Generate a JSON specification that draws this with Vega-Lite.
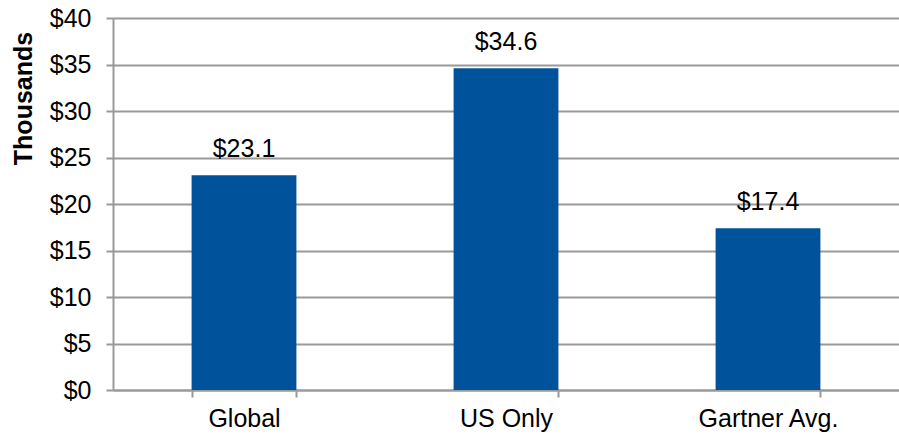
{
  "$schema": "https://vega.github.io/schema/vega-lite/v6.json",
  "width": 786,
  "height": 372,
  "autosize": {"type": "none"},
  "padding": {"left": 113, "top": 18, "right": 0, "bottom": 47},
  "background": "white",
  "config": {
    "view": {"stroke": null},
    "font": "Liberation Sans"
  },
  "data": {
    "values": [
      {"category": "Global", "value": 23.1},
      {"category": "US Only", "value": 34.6},
      {"category": "Gartner Avg.", "value": 17.4}
    ]
  },
  "encoding": {
    "x": {
      "field": "category",
      "type": "nominal",
      "sort": null,
      "scale": {"paddingInner": 0.6, "paddingOuter": 0.3},
      "axis": {
        "title": null,
        "labelAngle": 0,
        "labelFontSize": 25,
        "labelColor": "black",
        "labelPadding": 9,
        "domainColor": "#999999",
        "domainWidth": 2,
        "tickColor": "#999999",
        "tickWidth": 2,
        "tickSize": 7,
        "tickBand": "extent",
        "grid": false
      }
    },
    "y": {
      "field": "value",
      "type": "quantitative",
      "scale": {"domain": [0, 40]},
      "axis": {
        "values": [0, 5, 10, 15, 20, 25, 30, 35, 40],
        "labelExpr": "'$' + datum.value",
        "labelFontSize": 25,
        "labelColor": "black",
        "labelPadding": 15,
        "domainColor": "#999999",
        "domainWidth": 2,
        "tickColor": "#999999",
        "tickWidth": 2,
        "tickSize": 7,
        "grid": true,
        "gridColor": "#999999",
        "gridWidth": 2,
        "title": "Thousands",
        "titleFontSize": 25,
        "titleFontWeight": "bold",
        "titleColor": "black",
        "titleAngle": -90,
        "titleX": -90,
        "titleY": 80,
        "titleAlign": "center",
        "titleBaseline": "middle"
      }
    }
  },
  "layer": [
    {"mark": {"type": "bar", "color": "#00529B"}},
    {
      "mark": {"type": "text", "fontSize": 25, "color": "black", "baseline": "alphabetic", "dy": -18},
      "encoding": {
        "text": {"field": "value", "type": "quantitative", "format": "$.1f"}
      }
    }
  ]
}
